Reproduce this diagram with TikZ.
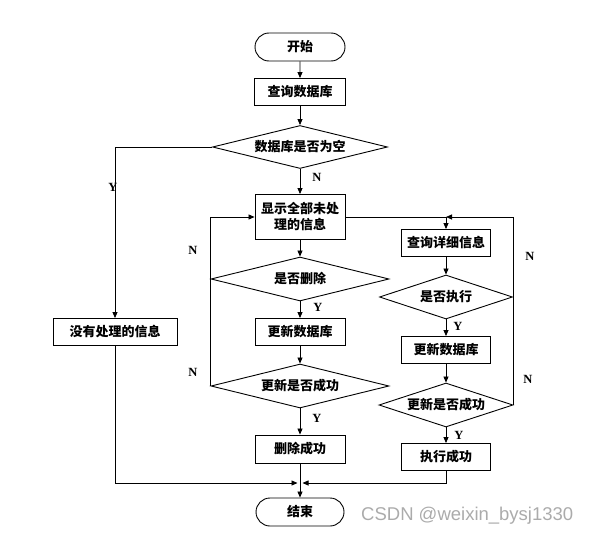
\documentclass[tikz,border=0pt]{standalone}
\usepackage{fontspec}
\setmainfont{Liberation Serif}
\newfontfamily\cjk{Noto Sans CJK SC}
\newfontfamily\wmfont{Liberation Sans}
\usetikzlibrary{arrows.meta,shapes.geometric,shapes.misc}
\begin{document}
\begin{tikzpicture}[x=1pt,y=-1pt,
  every node/.style={font=\cjk\bfseries\fontsize{13}{16}\selectfont},
  base/.style={draw=black,line width=0.9pt,inner sep=0pt,align=center},
  proc/.style={base,rectangle,minimum width=90pt,minimum height=27pt},
  term/.style={base,rounded rectangle,minimum width=90pt,minimum height=28pt},
  dec/.style={base,diamond,aspect=4},
  lbl/.style={font=\fontsize{12.5}{14}\selectfont\bfseries},
  conn/.style={line width=0.8pt,-{Triangle[length=6pt,width=5pt]}},
  ln/.style={line width=0.8pt}]
\useasboundingbox (0,0) rectangle (592,535);
\node[term] (start) at (300,47) {开始};
\node[proc,minimum width=91pt] (q1) at (300,92) {查询数据库};
\node[dec,minimum width=175pt,minimum height=43pt] (d1) at (300,147) {数据库是否为空};
\node[proc,minimum height=45pt] (show) at (300,217) {显示全部未处\\理的信息};
\node[proc,minimum width=124pt] (nodata) at (115,332) {没有处理的信息};
\node[dec,minimum width=178pt,minimum height=44pt] (d2) at (300,279) {是否删除};
\node[proc] (upd1) at (300,332) {更新数据库};
\node[dec,minimum width=178pt,minimum height=44pt] (d3) at (300,386) {更新是否成功};
\node[proc,minimum height=28pt] (delok) at (300,449) {删除成功};
\node[term,minimum width=88pt] (end) at (300,512) {结束};
\node[proc,minimum width=89pt] (detail) at (446,243) {查询详细信息};
\node[dec,minimum width=133pt,minimum height=44pt] (d4) at (446,297) {是否执行};
\node[proc,minimum width=89pt] (upd2) at (446,350) {更新数据库};
\node[dec,minimum width=134pt,minimum height=44pt] (d5) at (446,405) {更新是否成功};
\node[proc,minimum width=89pt] (exeok) at (446,457) {执行成功};
\coordinate (jr) at (446,217);
\coordinate (je) at (300,483);
% main flow
\draw[conn] (start) -- (q1);
\draw[conn] (q1) -- (d1);
\draw[conn] (d1) -- (show);
\draw[conn] (d1.west) -| (nodata.north);
\draw[conn] (show) -- (d2);
\draw[conn] (d2) -- (upd1);
\draw[conn] (upd1) -- (d3);
\draw[conn] (d3) -- (delok);
\draw[conn] (d3.west) |- (show.west);
% right branch
\draw[ln] (show.east) -- (jr);
\draw[conn] (jr) -- (detail);
\draw[conn] (d5.east) |- (jr);
\draw[conn] (detail) -- (d4);
\draw[conn] (d4) -- (upd2);
\draw[conn] (upd2) -- (d5);
\draw[conn] (d5) -- (exeok);
% to end
\draw[conn,shorten >=2.5pt] (nodata.south) |- (je);
\draw[conn,shorten >=2.5pt] (exeok.south) |- (je);
\draw[conn] (delok) -- (end);
% labels
\node[lbl] (lY1) at (113,187) {Y};
\node[lbl] (lN1) at (317,177) {N};
\node[lbl] (lN2) at (193,250) {N};
\node[lbl] (lY2) at (318,307) {Y};
\node[lbl] (lN3) at (193,372) {N};
\node[lbl] (lY3) at (317,418) {Y};
\node[lbl] (lN4) at (530,256) {N};
\node[lbl] (lY4) at (458,326) {Y};
\node[lbl] (lN5) at (528,379) {N};
\node[lbl] (lY5) at (459,435) {Y};
\node[font=\wmfont\fontsize{18.5}{20}\selectfont,text=black!33,inner sep=0pt,anchor=west] (wm) at (361,516) {CSDN @weixin\_bysj1330};
\end{tikzpicture}
\end{document}
